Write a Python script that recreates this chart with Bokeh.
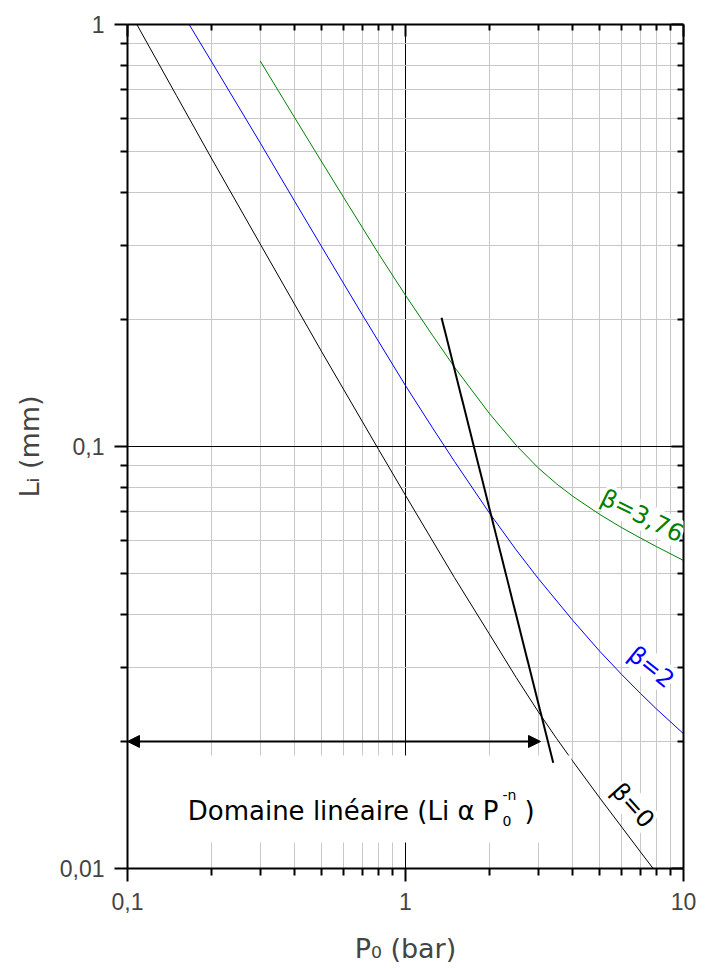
from bokeh.plotting import figure
from bokeh.models import Range1d, LogAxis, FixedTicker, Label, Arrow, NormalHead
from bokeh.embed import file_html
from bokeh.resources import INLINE

# ---------------- data ----------------
x_major = [0.1, 1, 10]
x_major_labels = ["0,1", "1", "10"]
x_minor = [0.2, 0.3, 0.4, 0.5, 0.6, 0.7, 0.8, 0.9, 2, 3, 4, 5, 6, 7, 8, 9]
y_major = [0.01, 0.1, 1]
y_major_labels = ["0,01", "0,1", "1"]
y_minor = [0.02, 0.03, 0.04, 0.05, 0.06, 0.07, 0.08, 0.09,
           0.2, 0.3, 0.4, 0.5, 0.6, 0.7, 0.8, 0.9]

# beta = 0
b0_p = [0.1, 0.15, 0.2, 0.3, 0.5, 0.8, 1, 1.5, 2, 2.5, 3, 3.5, 4, 5, 6, 7, 8, 9]
b0_l = [1.096, 0.6785, 0.4833, 0.3021, 0.1675, 0.0984, 0.0766, 0.0489, 0.0360,
        0.02836, 0.02355, 0.0203, 0.01795, 0.01469, 0.01253, 0.01095, 0.00976,
        0.00883]

# beta = 2
b2_p = [0.1, 0.15, 0.2, 0.3, 0.4, 0.5, 0.7, 1, 1.25, 1.5, 2, 2.5, 3, 4, 5, 6,
        7, 8, 10]
b2_l = [1.758, 1.122, 0.8193, 0.5246, 0.3804, 0.2970, 0.205, 0.1394, 0.1108,
        0.0922, 0.0697, 0.0569, 0.0487, 0.0387, 0.0327, 0.0288, 0.0260,
        0.02387, 0.02086]

# beta = 3,76
b376_p = [0.3, 0.4, 0.5, 0.6, 0.7, 0.8, 1, 1.25, 1.5, 2, 2.5, 3, 3.5, 4, 5, 6,
          7, 8, 10]
b376_l = [0.820, 0.6004, 0.4721, 0.3886, 0.3300, 0.2864, 0.2282, 0.1835,
          0.1542, 0.1199, 0.1007, 0.0890, 0.0815, 0.0762, 0.0690, 0.0642,
          0.0607, 0.0579, 0.0537]

# limit of the linear domain (steep line)
lim_p = [1.348, 3.40]
lim_l = [0.2018, 0.0178]

# double arrow of the linear domain
arrow_p = [0.1, 3.06]
arrow_l = 0.02

FONT = "Liberation Sans"
FONT2 = "DejaVu Sans"
FS = "23px"

p = figure(width=709, height=969, x_axis_type="log", y_axis_type="log",
           x_range=Range1d(0.1, 10), y_range=Range1d(0.01, 1),
           toolbar_location=None, output_backend="svg",
           min_border_left=127, min_border_right=26,
           min_border_top=24, min_border_bottom=101)
p.outline_line_color = None
p.background_fill_color = "white"
p.border_fill_color = "white"

xt = FixedTicker(ticks=x_major, minor_ticks=x_minor)
yt = FixedTicker(ticks=y_major, minor_ticks=y_minor)

# main axes
for ax, t, labs, ticks in ((p.xaxis[0], xt, x_major_labels, x_major),
                           (p.yaxis[0], yt, y_major_labels, y_major)):
    ax.ticker = t
    ax.major_label_overrides = dict(zip(ticks, labs))
    ax.axis_line_width = 2
    ax.major_tick_line_width = 2
    ax.minor_tick_line_width = 2
    ax.major_tick_out = 13
    ax.major_tick_in = 0
    ax.minor_tick_out = 7
    ax.minor_tick_in = 0
    ax.major_label_text_font = FONT
    ax.major_label_text_font_size = FS
    ax.axis_label_text_font = FONT2
    ax.axis_label_text_font_size = "27px"
    ax.axis_label_text_font_style = "normal"

p.xaxis.axis_label = "P\u2080 (bar)"
p.yaxis.axis_label = "L\u1d62 (mm)"
p.xaxis.major_label_standoff = 11
p.yaxis.major_label_standoff = 10
p.xaxis.axis_label_standoff = 20
p.yaxis.axis_label_standoff = 12

# mirror axes (ticks inside, no visible labels)
top = LogAxis(ticker=xt)
right = LogAxis(ticker=yt)
for ax in (top, right):
    ax.axis_line_width = 2
    ax.major_tick_line_width = 2
    ax.minor_tick_line_width = 2
    ax.major_tick_in = 12
    ax.major_tick_out = 0
    ax.minor_tick_in = 6
    ax.minor_tick_out = 0
    ax.major_label_text_font_size = "1px"
    ax.major_label_text_color = None
    ax.major_label_standoff = 0
p.add_layout(top, "above")
p.add_layout(right, "right")

# grids
p.xgrid.ticker = xt
p.ygrid.ticker = yt
for g in (p.xgrid, p.ygrid):
    g.grid_line_color = "black"
    g.grid_line_width = 1
    g.minor_grid_line_color = "#c8c8c8"
    g.minor_grid_line_width = 1

# curves
p.line(b0_p, b0_l, line_color="black", line_width=1)

# white background of the text block
p.quad(left=[0.1], right=[3.955], bottom=[0.01152], top=[0.01853],
       fill_color="white", line_color=None)

p.line(b2_p, b2_l, line_color="#0000ff", line_width=1)
p.line(b376_p, b376_l, line_color="#008000", line_width=1)
p.line(lim_p, lim_l, line_color="black", line_width=2)

p.add_layout(Arrow(start=NormalHead(size=12, fill_color="black", line_color="black"),
                   end=NormalHead(size=12, fill_color="black", line_color="black"),
                   x_start=arrow_p[0], y_start=arrow_l, x_end=arrow_p[1], y_end=arrow_l,
                   line_width=2, line_color="black"))

# text of the linear domain
p.add_layout(Label(x=2.161, y=0.01372, text="Domaine linéaire (Li \u03b1 P",
                   text_align="right", text_baseline="middle",
                   text_font=FONT2, text_font_size="26px", text_color="black"))
p.add_layout(Label(x=2.233, y=0.01299, text="0", text_align="left",
                   text_baseline="middle", text_font=FONT2,
                   text_font_size="14px", text_color="black"))
p.add_layout(Label(x=2.233, y=0.01497, text="-n", text_align="left",
                   text_baseline="middle", text_font=FONT2,
                   text_font_size="14px", text_color="black"))
p.add_layout(Label(x=2.679, y=0.01372, text=")", text_align="left",
                   text_baseline="middle", text_font=FONT2,
                   text_font_size="26px", text_color="black"))

# curve labels
for txt, xx, yy, ang, col in (("\u03b2=3,76", 7.10, 0.0685, -0.46, "#008000"),
                               ("\u03b2=2", 7.65, 0.0300, -0.68, "#0000ff"),
                               ("\u03b2=0", 6.57, 0.0141, -0.84, "black")):
    p.add_layout(Label(x=xx, y=yy, text=txt, angle=ang, text_align="center",
                       text_baseline="middle", text_font=FONT2, text_font_size="24px",
                       text_color=col, background_fill_color="white"))

open("out.html", "w").write(file_html(p, INLINE))
